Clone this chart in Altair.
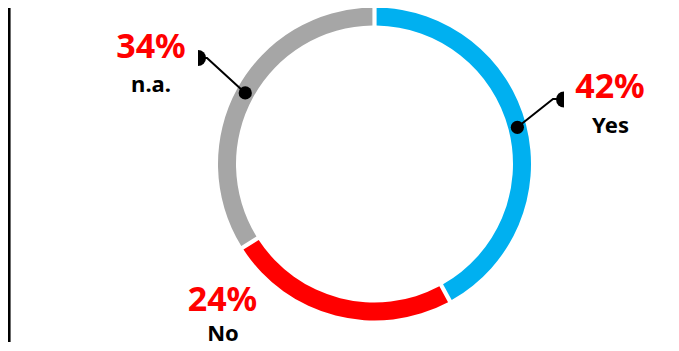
import math
import altair as alt
import pandas as pd

# ---- data ----
categories = ["Yes", "No", "n.a."]
shares = [42, 24, 34]
pct_labels = ["42%", "24%", "34%"]
colors = ["#00B0F0", "#FF0000", "#A6A6A6"]

# ---- layout (page pixels) ----
W, H = 663, 335
CX, CY = 374.5, 164.0
R_OUT, R_IN = 156.5, 138.5
R_MID = (R_OUT + R_IN) / 2
FONT = "Noto Sans"

def to_data(X, Y):
    return X - CX, CY - Y

xs = alt.Scale(domain=[8 - CX, 8 + W - CX], nice=False, zero=False)
ys = alt.Scale(domain=[CY - (8 + H), CY - 8], nice=False, zero=False)

ring = pd.DataFrame({"category": categories, "share": shares, "ord": range(len(categories))})

# mid angles of each slice (radians clockwise from top), from the data
total = sum(shares)
mids = {}
acc = 0
for c, s in zip(categories, shares):
    mids[c] = (acc + s / 2) / total * 2 * math.pi
    acc += s

dots = pd.DataFrame({
    "category": categories,
    "x": [R_MID * math.sin(mids[c]) for c in categories],
    "y": [R_MID * math.cos(mids[c]) for c in categories],
})
dots_shown = dots[dots["category"] != "No"]

# leader lines: elbow and end positions (layout)
leader_layout = {
    "Yes": [(553, 99), (564, 99)],
    "n.a.": [(207, 58), (198, 58)],
}
rows = []
for c, pts in leader_layout.items():
    d = dots[dots["category"] == c].iloc[0]
    rows.append({"category": c, "i": 0, "x": d["x"], "y": d["y"]})
    for i, (X, Y) in enumerate(pts, start=1):
        x, y = to_data(X, Y)
        rows.append({"category": c, "i": i, "x": x, "y": y})
leaders = pd.DataFrame(rows)

cap_layout = {"Yes": (564, 99.5, math.pi, 2 * math.pi), "n.a.": (198, 58, 0, math.pi)}
caps = pd.DataFrame([
    {"category": c, "x": to_data(X, Y)[0], "y": to_data(X, Y)[1], "t0": t0, "t1": t1}
    for c, (X, Y, t0, t1) in cap_layout.items()
])

pct_pos = {"Yes": (610, 98), "No": (222.5, 311), "n.a.": (151, 58)}
name_pos = {"Yes": (610.5, 133), "No": (223, 341), "n.a.": (151, 92)}
pct_df = pd.DataFrame([
    {"text": t, "x": to_data(*pct_pos[c])[0], "y": to_data(*pct_pos[c])[1]}
    for c, t in zip(categories, pct_labels)
])
name_df = pd.DataFrame([
    {"text": c, "x": to_data(*name_pos[c])[0], "y": to_data(*name_pos[c])[1]}
    for c in categories
])

X0 = alt.XDatum(0, type="quantitative", scale=xs, axis=None)
Y0 = alt.YDatum(0, type="quantitative", scale=ys, axis=None)

arcs = alt.Chart(ring).mark_arc(
    outerRadius=R_OUT, innerRadius=R_IN, padAngle=0.02
).encode(
    x=X0, y=Y0,
    theta=alt.Theta("share:Q", stack=True),
    order=alt.Order("ord:Q"),
    color=alt.Color("category:N", scale=alt.Scale(domain=categories, range=colors), legend=None),
)

lines = alt.Chart(leaders).mark_line(color="black", strokeWidth=2).encode(
    x=alt.X("x:Q", scale=xs, axis=None),
    y=alt.Y("y:Q", scale=ys, axis=None),
    detail="category:N",
    order="i:Q",
)

dot_layer = alt.Chart(dots_shown).mark_circle(size=175, color="black", opacity=1).encode(
    x=alt.X("x:Q", scale=xs, axis=None),
    y=alt.Y("y:Q", scale=ys, axis=None),
)

cap_layer = alt.Chart(caps).mark_arc(outerRadius=8, color="black").encode(
    x=alt.X("x:Q", scale=xs, axis=None),
    y=alt.Y("y:Q", scale=ys, axis=None),
    theta=alt.Theta("t0:Q", scale=None, stack=False),
    theta2="t1:Q",
)

pct_layer = alt.Chart(pct_df).mark_text(
    font=FONT, fontSize=34, fontWeight="bold", color="#FF0000", align="center", baseline="alphabetic"
).encode(
    x=alt.X("x:Q", scale=xs, axis=None),
    y=alt.Y("y:Q", scale=ys, axis=None),
    text="text:N",
)

name_layer = alt.Chart(name_df).mark_text(
    font=FONT, fontSize=22, fontWeight="bold", color="black", align="center", baseline="alphabetic"
).encode(
    x=alt.X("x:Q", scale=xs, axis=None),
    y=alt.Y("y:Q", scale=ys, axis=None),
    text="text:N",
)

border = alt.Chart(ring).mark_rule(color="black", strokeWidth=2.5).encode(
    x=alt.value(1), y=alt.value(0), y2=alt.value(334)
)

chart = alt.layer(
    border, arcs, lines, dot_layer, cap_layer, pct_layer, name_layer
).properties(
    width=W, height=H, padding=0, autosize=alt.AutoSizeParams(type="none")
).configure_view(stroke=None)

chart.save("out.html", embed_options={"renderer": "svg", "actions": False})
